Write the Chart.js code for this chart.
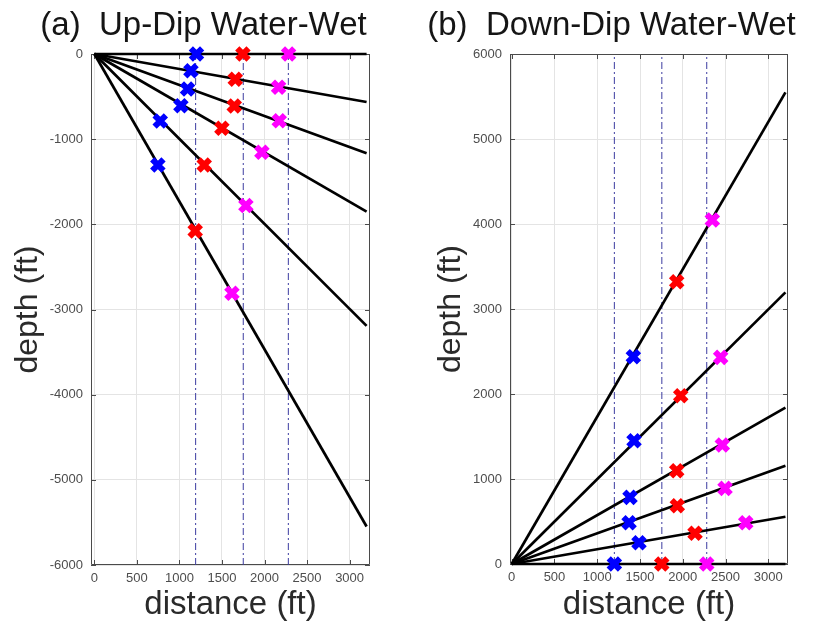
<!DOCTYPE html>
<html><head><meta charset="utf-8">
<script src="https://cdn.jsdelivr.net/npm/chart.js@4.4.1/dist/chart.umd.min.js"></script>
<style>
html,body{margin:0;padding:0;background:#fff;}
#wrap{position:relative;width:815px;height:632px;overflow:hidden;}
.c{position:absolute;top:0;width:407px;height:632px;}
</style></head><body>
<div id="wrap">
<div class="c" style="left:0"><canvas id="a" width="407" height="632"></canvas></div>
<div class="c" style="left:408px"><canvas id="b" width="407" height="632"></canvas></div>
</div>
<script>
// ---- tick labels ----
const distanceTicks = [0, 500, 1000, 1500, 2000, 2500, 3000];
const depthTicksUp = [0, -1000, -2000, -3000, -4000, -5000, -6000];
const depthTicksDown = [0, 1000, 2000, 3000, 4000, 5000, 6000];

// ---- straight lines from origin (0,0) to x = lineEndX ----
const lineEndX = 3200;
const upLineEndDepth = [0, -564, -1165, -1851, -3192, -5548];
const downLineEndDepth = [0, 556, 1156, 1839, 3196, 5549];

// ---- vertical dash-dot well lines ----
const upWells = [1190, 1750, 2280];
const downWells = [1200, 1755, 2280];

// ---- markers, (a) Up-Dip ----
const upBlueX = [1200, 1135, 1095, 1017, 774, 746];
const upBlueY = [0, -196, -411, -607, -786, -1303];
const upRedX = [1746, 1656, 1644, 1499, 1291, 1185];
const upRedY = [0, -297, -610, -872, -1303, -2077];
const upMagentaX = [2283, 2165, 2173, 1969, 1781, 1617];
const upMagentaY = [0, -391, -783, -1154, -1780, -2809];

// ---- markers, (b) Down-Dip ----
const downBlueX = [1200, 1488, 1372, 1383, 1430, 1422];
const downBlueY = [0, 250, 486, 784, 1451, 2439];
const downRedX = [1754, 2143, 1936, 1929, 1976, 1929];
const downRedY = [0, 361, 686, 1098, 1980, 3321];
const downMagentaX = [2280, 2736, 2494, 2462, 2443, 2345];
const downMagentaY = [0, 486, 890, 1400, 2431, 4047];

const FONT = 'Arial, "Liberation Sans", sans-serif';

const framePlugin = {
  id: 'frame',
  beforeDatasetsDraw(chart) {
    const {ctx, chartArea: {left, right, top, bottom}, scales: {x, y}} = chart;
    ctx.save();
    ctx.strokeStyle = '#4a4a4a';
    ctx.lineWidth = 1;
    ctx.beginPath();
    ctx.rect(Math.round(left) + 0.5, Math.round(top) + 0.5, Math.round(right - left) - 1, Math.round(bottom - top) - 1);
    const tl = 5;
    x.ticks.forEach(t => {
      const px = Math.round(x.getPixelForValue(t.value)) + 0.5;
      ctx.moveTo(px, bottom); ctx.lineTo(px, bottom - tl);
      ctx.moveTo(px, top); ctx.lineTo(px, top + tl);
    });
    y.ticks.forEach(t => {
      const py = Math.round(y.getPixelForValue(t.value)) + 0.5;
      ctx.moveTo(left, py); ctx.lineTo(left + tl, py);
      ctx.moveTo(right, py); ctx.lineTo(right - tl, py);
    });
    ctx.stroke();
    ctx.restore();
  }
};

function markerSet(xs, ys, color) {
  return {
    data: xs.map((v, i) => ({x: v, y: ys[i]})),
    showLine: false,
    pointStyle: 'crossRot',
    pointRadius: 8,
    pointBorderWidth: 6,
    borderColor: color,
    backgroundColor: color,
    order: 0,
    clip: false
  };
}

function makeChart(id, cfg) {
  const datasets = [];
  cfg.markers.forEach(m => datasets.push(markerSet(m[0], m[1], m[2])));
  cfg.lineEnds.forEach(d => datasets.push({
    data: [{x: 0, y: 0}, {x: lineEndX, y: d}],
    showLine: true, pointRadius: 0, borderColor: '#000', borderWidth: 2.7,
    order: 1, clip: false
  }));
  cfg.wells.forEach(w => datasets.push({
    data: [{x: w, y: cfg.yMin}, {x: w, y: cfg.yMax}],
    showLine: true, pointRadius: 0, borderColor: '#3c3ca0', borderWidth: 1,
    borderDash: [7, 3, 2, 3], order: 2, clip: false
  }));
  return new Chart(document.getElementById(id), {
    type: 'scatter',
    data: {datasets},
    plugins: [framePlugin],
    options: {
      responsive: false,
      animation: false,
      layout: {padding: 0},
      plugins: {
        legend: {display: false},
        tooltip: {enabled: false},
        title: {
          display: true, text: cfg.title, color: '#151515',
          font: {family: FONT, size: 33, weight: 'normal'},
          padding: {top: 6, bottom: 8.4}
        }
      },
      scales: {
        x: {
          type: 'linear', min: cfg.xMin, max: cfg.xMax,
          afterBuildTicks: s => { s.ticks = distanceTicks.map(v => ({value: v})); },
          afterFit: s => { s.height = cfg.xAxisHeight; },
          grid: {color: '#e4e4e4', drawTicks: false},
          border: {display: false},
          ticks: {color: '#4d4d4d', padding: 6, font: {family: FONT, size: 13}, callback: v => String(v), maxRotation: 0, autoSkip: false},
          title: {display: true, text: 'distance (ft)', color: '#2a2a2a', font: {family: FONT, size: 33}, padding: {top: 0, bottom: 7}}
        },
        y: {
          type: 'linear', min: cfg.yMin, max: cfg.yMax,
          afterBuildTicks: s => { s.ticks = cfg.yTicks.map(v => ({value: v})); },
          afterFit: s => { s.width = cfg.yAxisWidth; },
          grid: {color: '#e4e4e4', drawTicks: false},
          border: {display: false},
          ticks: {color: '#4d4d4d', padding: 8, font: {family: FONT, size: 13}, callback: v => String(v), autoSkip: false},
          title: {display: true, text: 'depth (ft)', color: '#2a2a2a', font: {family: FONT, size: 32}, padding: {top: cfg.yTitlePad, bottom: 0}}
        },
        // empty right-hand spacer axis that reserves the right margin
        ySpace: {
          type: 'linear', position: 'right', min: cfg.yMin, max: cfg.yMax,
          afterFit: s => { s.width = cfg.rightMargin; },
          grid: {display: false, drawTicks: false},
          border: {display: false},
          ticks: {display: false},
          title: {display: false}
        }
      }
    }
  });
}

makeChart('a', {
  title: '(a)  Up-Dip Water-Wet',
  markers: [[upBlueX, upBlueY, '#0000ff'], [upRedX, upRedY, '#ff0000'], [upMagentaX, upMagentaY, '#ff00ff']],
  lineEnds: upLineEndDepth, wells: upWells,
  xMin: -40, xMax: 3240, yMin: -6000, yMax: 0, yTicks: depthTicksUp,
  yAxisWidth: 91, xAxisHeight: 67, rightMargin: 37, yTitlePad: 9
});
makeChart('b', {
  title: '(b)  Down-Dip Water-Wet',
  markers: [[downBlueX, downBlueY, '#0000ff'], [downRedX, downRedY, '#ff0000'], [downMagentaX, downMagentaY, '#ff00ff']],
  lineEnds: downLineEndDepth, wells: downWells,
  xMin: -20, xMax: 3230, yMin: 0, yMax: 6000, yTicks: depthTicksDown,
  yAxisWidth: 102, xAxisHeight: 68, rightMargin: 27, yTitlePad: 24
});
</script>
</body></html>
